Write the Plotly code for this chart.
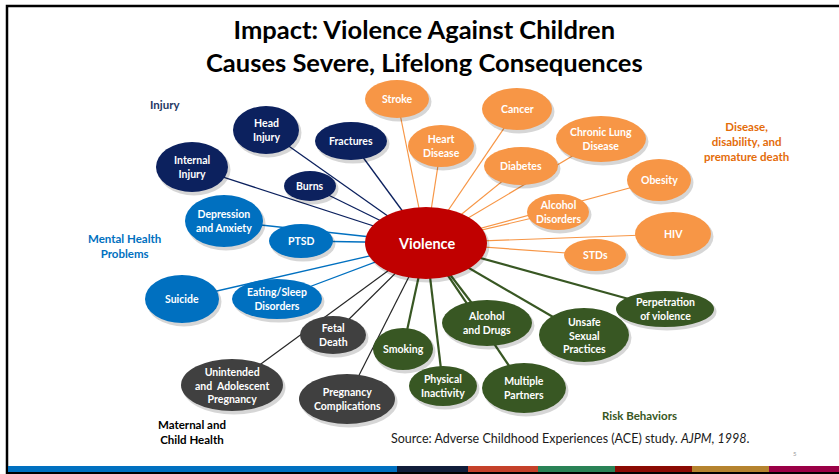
import plotly.graph_objects as go

# node data (positions in slide pixels, y grows downward)
labels = ["Head<br>Injury", "Fractures", "Internal<br>Injury", "Burns",
          "Depression<br>and Anxiety", "PTSD", "Suicide", "Eating/Sleep<br>Disorders",
          "Fetal<br>Death", "Unintended<br>and  Adolescent<br>Pregnancy", "Pregnancy<br>Complications",
          "Smoking", "Physical<br>Inactivity", "Alcohol<br>and Drugs", "Multiple<br>Partners",
          "Unsafe<br>Sexual<br>Practices", "Perpetration<br>of violence",
          "Stroke", "Heart<br>Disease", "Cancer", "Chronic Lung<br>Disease", "Diabetes",
          "Obesity", "Alcohol<br>Disorders", "HIV", "STDs"]
groups = ["injury"] * 4 + ["mental"] * 4 + ["maternal"] * 3 + ["risk"] * 6 + ["disease"] * 9
cx = [266, 351, 192, 310,
      224, 301, 182, 277,
      333, 232, 347,
      403, 443, 487, 524, 584, 665,
      397, 441, 517, 601, 521, 659, 558, 673, 595]
cy = [130, 141, 167, 186,
      221, 241, 299, 299,
      335, 385, 399,
      349, 386, 323, 388, 335, 309,
      99, 146, 109, 139, 166, 180, 212, 234, 255]
rx = [33, 36, 36, 26,
      39, 32, 37, 45,
      33, 51, 48,
      30, 34, 45, 42, 45, 49,
      32, 33, 35, 45, 37, 32, 31, 38, 31]
ry = [24, 19, 25, 15,
      26, 17, 24, 20,
      19, 26, 25,
      21, 20, 23, 25, 27, 18,
      19, 21, 21, 23, 19, 21, 18, 22, 16]

center_label = "Violence"
center_x, center_y, center_rx, center_ry = 426, 243, 61, 36

fill = {"injury": "#0C215E", "mental": "#0070C0", "maternal": "#404040",
        "risk": "#385723", "disease": "#F79646"}
edge = {"injury": ("#0C215E", 1.3), "mental": ("#0070C0", 1.3), "maternal": ("#262626", 1.2),
        "risk": ("#385723", 2.2), "disease": ("#F79646", 1.2)}

category_text = ["Injury", "Mental Health<br>Problems", "Maternal and<br>Child Health",
                 "Risk Behaviors", "Disease,<br>disability, and<br>premature death"]
category_x = [165, 124, 192, 639, 746]
category_y = [104, 246, 432, 415, 141]
category_color = ["#1F3864", "#0070C0", "#000000", "#385723", "#E46C0A"]

bar_colors = ["#0070C0", "#111D3A", "#C5412A", "#2A8256", "#8B0A03", "#B5832E", "#9A0046"]
bar_edges = [8, 397, 468, 538, 615, 692, 769, 839]

FONT = "Lato"

fig = go.Figure()

# connector lines from the centre to each node
for g in ["disease", "injury", "mental", "maternal", "risk"]:
    xs, ys = [], []
    for i in range(len(labels)):
        if groups[i] == g:
            xs += [center_x, cx[i], None]
            ys += [center_y, cy[i], None]
    fig.add_trace(go.Scatter(x=xs, y=ys, mode="lines", hoverinfo="skip",
                             line=dict(color=edge[g][0], width=edge[g][1]), showlegend=False))

shapes = []
# slide frame
shapes.append(dict(type="rect", xref="x", yref="y", x0=7, x1=850, y0=6, y1=473,
                   line=dict(color="black", width=2.5), layer="below"))
# footer colour bar
for k, c in enumerate(bar_colors):
    shapes.append(dict(type="rect", xref="x", yref="y", x0=bar_edges[k], x1=bar_edges[k + 1],
                       y0=466, y1=472, fillcolor=c, line=dict(width=0)))

annotations = []
all_x = cx + [center_x]
all_y = cy + [center_y]
all_rx = rx + [center_rx]
all_ry = ry + [center_ry]
all_fill = [fill[g] for g in groups] + ["#C00000"]
for i in range(len(all_x)):
    # soft drop shadow
    shapes.append(dict(type="circle", xref="x", yref="y", layer="above",
                       x0=all_x[i] - all_rx[i] + 1.5, x1=all_x[i] + all_rx[i] + 2.5,
                       y0=all_y[i] - all_ry[i] + 2, y1=all_y[i] + all_ry[i] + 3.5,
                       fillcolor="rgba(0,0,0,0.16)", line=dict(width=0)))
    shapes.append(dict(type="circle", xref="x", yref="y", layer="above",
                       x0=all_x[i] - all_rx[i], x1=all_x[i] + all_rx[i],
                       y0=all_y[i] - all_ry[i], y1=all_y[i] + all_ry[i],
                       fillcolor=all_fill[i], line=dict(width=0)))

for i, lab in enumerate(labels):
    annotations.append(dict(x=cx[i], y=cy[i], xref="x", yref="y", text="<b>%s</b>" % lab,
                            showarrow=False, font=dict(family=FONT, size=10.5, color="white")))
annotations.append(dict(x=center_x, y=center_y, xref="x", yref="y", text="<b>%s</b>" % center_label,
                        showarrow=False, font=dict(family=FONT, size=14.5, color="white")))

for t, x, y, c in zip(category_text, category_x, category_y, category_color):
    annotations.append(dict(x=x, y=y, xref="x", yref="y", text="<b>%s</b>" % t, showarrow=False,
                            font=dict(family=FONT, size=11.5, color=c)))

annotations.append(dict(x=424, y=45, xref="x", yref="y", showarrow=False,
                        text="<b>Impact: Violence Against Children<br>Causes Severe, Lifelong Consequences</b>",
                        font=dict(family=FONT, size=25.5, color="black")))
annotations.append(dict(x=570, y=438, xref="x", yref="y", showarrow=False,
                        text="Source: Adverse Childhood Experiences (ACE) study. <i>AJPM, 1998</i>.",
                        font=dict(family=FONT, size=12.5, color="#1a1a1a")))
annotations.append(dict(x=795, y=453, xref="x", yref="y", showarrow=False, text="5",
                        font=dict(family=FONT, size=6, color="#999999")))

fig.update_layout(
    width=839, height=474,
    margin=dict(l=0, r=0, t=0, b=0),
    paper_bgcolor="white", plot_bgcolor="white",
    xaxis=dict(range=[0, 839], visible=False, fixedrange=True),
    yaxis=dict(range=[474, 0], visible=False, fixedrange=True),
    shapes=shapes, annotations=annotations,
    showlegend=False,
)

# drop the default page margin so the figure fills the window
fig.write_html("out.html", config={"displayModeBar": False},
               post_script="document.body.style.margin='0px';")
